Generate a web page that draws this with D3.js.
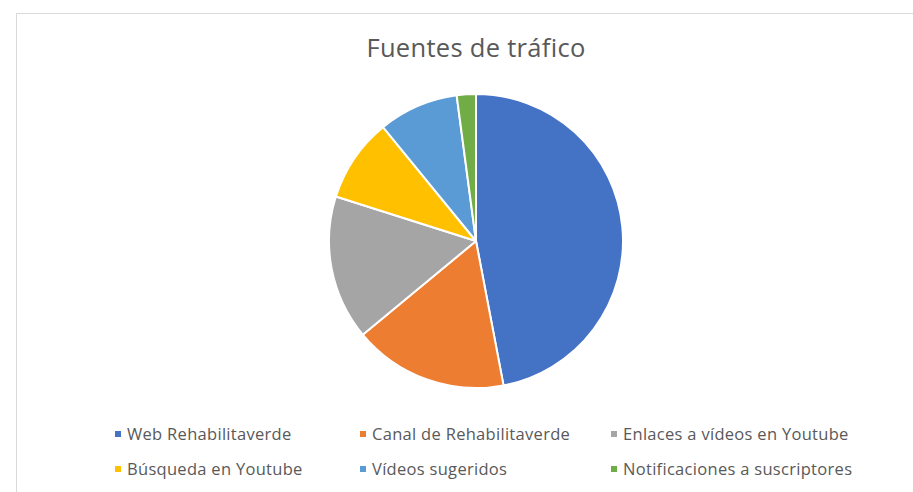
<!DOCTYPE html>
<html>
<head>
<meta charset="utf-8">
<script src="https://cdn.jsdelivr.net/npm/d3@7"></script>
<style>
  html, body { margin: 0; padding: 0; background: #ffffff; }
  svg { display: block; }
</style>
</head>
<body>
<svg id="chart" width="913" height="492"></svg>
<script>
// Traffic sources (share of views, %)
const categories = [
  "Web Rehabilitaverde",
  "Canal de Rehabilitaverde",
  "Enlaces a vídeos en Youtube",
  "Búsqueda en Youtube",
  "Vídeos sugeridos",
  "Notificaciones a suscriptores"
];
const values = [47.0, 17.0, 15.9, 9.2, 8.8, 2.1];
const colors = ["#4472C4", "#ED7D31", "#A5A5A5", "#FFC000", "#5B9BD5", "#70AD47"];
const title = "Fuentes de tráfico";

const svg = d3.select("#chart");
const W = 913, H = 492;
const font = "'Open Sans', Lato, sans-serif";

// chart area frame
svg.append("rect")
  .attr("x", 16.5).attr("y", 13.5)
  .attr("width", W + 10).attr("height", H + 10)
  .attr("fill", "#ffffff")
  .attr("stroke", "#d9d9d9").attr("stroke-width", 1);

svg.append("text")
  .attr("x", 476).attr("y", 57)
  .attr("text-anchor", "middle")
  .attr("font-family", font)
  .attr("font-size", 25.5)
  .attr("letter-spacing", 0.3)
  .attr("fill", "#595959")
  .text(title);

const cx = 476, cy = 241, r = 147;
const data = categories.map((c, i) => ({ name: c, value: values[i], color: colors[i] }));

const pie = d3.pie().sort(null).value(d => d.value);
const arc = d3.arc().innerRadius(0).outerRadius(r);

svg.append("g")
  .attr("transform", `translate(${cx},${cy})`)
  .selectAll("path")
  .data(pie(data))
  .join("path")
  .attr("d", arc)
  .attr("fill", d => d.data.color)
  .attr("stroke", "#ffffff")
  .attr("stroke-width", 2)
  .attr("stroke-linejoin", "round");

// legend: three columns, two rows
const colX = [115, 360, 611];
const rowY = [434, 469];
const legend = svg.append("g")
  .attr("font-family", font)
  .attr("font-size", 16.5)
  .attr("letter-spacing", 0.3)
  .attr("fill", "#595959");

data.forEach((d, i) => {
  const x = colX[i % 3], y = rowY[Math.floor(i / 3)];
  legend.append("rect")
    .attr("x", x).attr("y", y - 3)
    .attr("width", 6).attr("height", 6)
    .attr("fill", d.color);
  legend.append("text")
    .attr("x", x + 12).attr("y", y)
    .attr("dy", "0.35em")
    .text(d.name);
});
</script>
</body>
</html>
